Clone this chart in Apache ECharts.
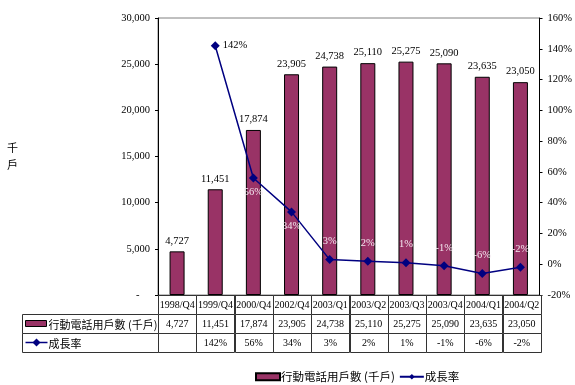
<!DOCTYPE html>
<html>
<head>
<meta charset="utf-8">
<script src="https://cdn.jsdelivr.net/npm/echarts@6/dist/echarts.min.js"></script>
<style>html,body{margin:0;padding:0;background:#fff}#c{width:575px;height:385px}</style>
</head>
<body>
<div id="c"></div>
<script>
var categories = ['1998/Q4','1999/Q4','2000/Q4','2002/Q4','2003/Q1','2003/Q2','2003/Q3','2003/Q4','2004/Q1','2004/Q2'];
var subscribers = [4727, 11451, 17874, 23905, 24738, 25110, 25275, 25090, 23635, 23050];
var growth = [null, 142, 56, 34, 3, 2, 1, -1, -6, -2];
var leftTicks = [0, 5000, 10000, 15000, 20000, 25000, 30000];
var rightTicks = [-20, 0, 20, 40, 60, 80, 100, 120, 140, 160];
var barName = '行動電話用戶數 (千戶)';
var lineName = '成長率';
var unitName = '千戶';

var NUM_FONT = '"Liberation Serif","Times New Roman",serif';
var CJK_FONT = '"Noto Sans CJK TC","Noto Sans CJK SC",sans-serif';
var BAR_COLOR = '#993366';
var LINE_COLOR = '#000080';

function fmt(v) { return v.toLocaleString('en-US'); }

// table cells
var cells = [];
categories.forEach(function (c, i) {
  cells.push({ col: i, row: 0, text: c });
  cells.push({ col: i, row: 1, text: fmt(subscribers[i]) });
  cells.push({ col: i, row: 2, text: growth[i] == null ? '' : growth[i] + '%' });
});
var headCells = [{ row: 1, text: barName, kind: 'bar' }, { row: 2, text: lineName, kind: 'line' }];

var lineData = growth.map(function (g, i) {
  var item = { value: g };
  if (g == null) return item;
  if (g > 100) {
    item.label = { position: 'right', color: '#000', distance: 3 };
  } else if (i === 2 || i === 3) {
    item.label = { position: 'bottom', color: '#f4e8f0', distance: 4 };
  } else {
    item.label = { position: 'top', color: '#f4e8f0', distance: 8 };
  }
  return item;
});

var chart = echarts.init(document.getElementById('c'));
chart.setOption({
  animation: false,
  backgroundColor: '#fff',
  grid: [
    { left: 158, width: 383, top: 18, height: 277, show: true, borderColor: '#808080', borderWidth: 1, backgroundColor: 'transparent' },
    { left: 158, width: 383, top: 295, height: 57 },
    { left: 22, width: 136, top: 295, height: 57 }
  ],
  xAxis: [
    { type: 'category', gridIndex: 0, data: categories, boundaryGap: true,
      axisLine: { lineStyle: { color: '#000' } }, axisTick: { show: false }, axisLabel: { show: false } },
    { type: 'category', gridIndex: 1, data: categories, show: false },
    { type: 'category', gridIndex: 2, data: ['h'], show: false }
  ],
  yAxis: [
    { type: 'value', gridIndex: 0, min: 0, max: 30000, interval: 5000,
      name: unitName.split('').join('\n'), nameLocation: 'middle', nameRotate: 0, nameGap: 140,
      nameTextStyle: { fontFamily: CJK_FONT, fontSize: 11, color: '#000', lineHeight: 17 },
      axisLine: { show: true, lineStyle: { color: '#000' } },
      axisTick: { show: true, length: 3, lineStyle: { color: '#000' } },
      splitLine: { show: false },
      axisLabel: { fontFamily: NUM_FONT, fontSize: 10.5, color: '#000', margin: 8,
        formatter: function (v) { return v === 0 ? '-    ' : fmt(v); } } },
    { type: 'value', gridIndex: 0, position: 'right', min: -20, max: 160, interval: 20,
      axisLine: { show: true, lineStyle: { color: '#000' } },
      axisTick: { show: true, length: 3, lineStyle: { color: '#000' } },
      splitLine: { show: false },
      axisLabel: { fontFamily: NUM_FONT, fontSize: 10.5, color: '#000', margin: 8,
        formatter: function (v) { return v + '%'; } } },
    { type: 'category', gridIndex: 1, data: ['c', 's1', 's2'], inverse: true, show: false },
    { type: 'category', gridIndex: 2, data: ['c', 's1', 's2'], inverse: true, show: false }
  ],
  legend: {
    left: 250, top: 366, itemGap: 4, itemWidth: 24, itemHeight: 7,
    textStyle: { fontFamily: CJK_FONT, fontSize: 11.5, color: '#000', padding: [0, 0, 0, -4] },
    data: [{ name: barName, icon: 'rect' }, { name: lineName }]
  },
  series: [
    { name: barName, type: 'bar', xAxisIndex: 0, yAxisIndex: 0, data: subscribers, barWidth: 15,
      itemStyle: { color: BAR_COLOR, borderColor: '#000', borderWidth: 1 },
      label: { show: true, position: 'top', distance: 5, color: '#000', fontFamily: NUM_FONT, fontSize: 10.5,
        formatter: function (p) { return fmt(p.value); } } },
    { name: lineName, type: 'line', xAxisIndex: 0, yAxisIndex: 1, data: lineData,
      symbol: 'diamond', symbolSize: 9, lineStyle: { color: LINE_COLOR, width: 1.5 },
      itemStyle: { color: LINE_COLOR },
      label: { show: true, fontFamily: NUM_FONT, fontSize: 10.5, formatter: function (p) { return p.value + '%'; } } },
    { type: 'custom', xAxisIndex: 1, yAxisIndex: 2, silent: true,
      data: cells.map(function (c) { return [c.col, c.row]; }),
      renderItem: function (params, api) {
        var c = cells[params.dataIndex];
        var pt = api.coord([api.value(0), api.value(1)]);
        var sz = api.size([1, 1]);
        return {
          type: 'group',
          children: [
            { type: 'rect', shape: { x: Math.round(pt[0] - sz[0] / 2) + 0.5, y: Math.round(pt[1] - sz[1] / 2) + 0.5, width: Math.round(sz[0]), height: Math.round(sz[1]) },
              style: { fill: '#fff', stroke: '#333', lineWidth: 1 } },
            { type: 'text', x: pt[0], y: pt[1] + 1,
              style: { text: c.text, align: 'center', verticalAlign: 'middle', fill: '#000', font: '10px ' + NUM_FONT } }
          ]
        };
      } },
    { type: 'custom', xAxisIndex: 2, yAxisIndex: 3, silent: true,
      data: headCells.map(function (c) { return [0, c.row]; }),
      renderItem: function (params, api) {
        var c = headCells[params.dataIndex];
        var pt = api.coord([api.value(0), api.value(1)]);
        var sz = api.size([1, 1]);
        var x0 = Math.round(pt[0] - sz[0] / 2) + 0.5;
        var cy = pt[1];
        var children = [
          { type: 'rect', shape: { x: x0, y: Math.round(cy - sz[1] / 2) + 0.5, width: Math.round(sz[0]), height: Math.round(sz[1]) },
            style: { fill: '#fff', stroke: '#333', lineWidth: 1 } },
          { type: 'text', x: x0 + 26, y: cy + 1,
            style: { text: c.text, align: 'left', verticalAlign: 'middle', fill: '#000', font: '11px ' + CJK_FONT } }
        ];
        if (c.kind === 'bar') {
          children.push({ type: 'rect', shape: { x: x0 + 3, y: cy - 3, width: 21, height: 6 },
            style: { fill: BAR_COLOR, stroke: '#000', lineWidth: 1 } });
        } else {
          children.push({ type: 'line', shape: { x1: x0 + 3, y1: cy, x2: x0 + 25, y2: cy },
            style: { stroke: LINE_COLOR, lineWidth: 1.5 } });
          children.push({ type: 'polygon', shape: { points: [[x0 + 14, cy - 4], [x0 + 18, cy], [x0 + 14, cy + 4], [x0 + 10, cy]] },
            style: { fill: LINE_COLOR } });
        }
        return { type: 'group', children: children };
      } }
  ]
});
</script>
</body>
</html>
